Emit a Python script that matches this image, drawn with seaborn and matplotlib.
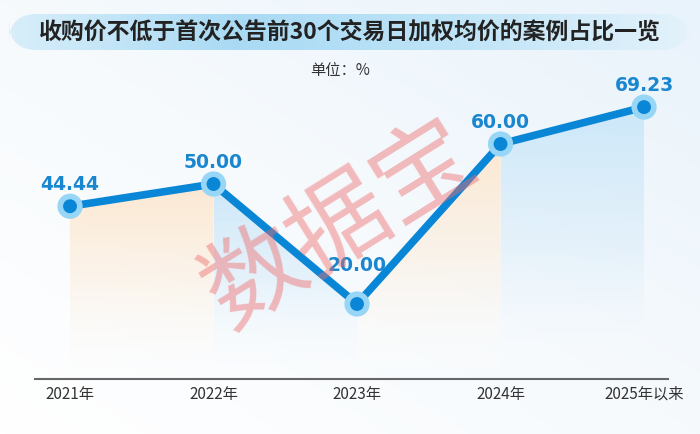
import numpy as np
import pandas as pd
import matplotlib
matplotlib.use("Agg")
import matplotlib.pyplot as plt
import seaborn as sns
from matplotlib.patches import FancyBboxPatch, Polygon
from matplotlib.colors import LinearSegmentedColormap

sns.set_theme(style="white")
plt.rcParams['font.family'] = ['Noto Sans CJK SC', 'DejaVu Sans']

categories = ["2021年", "2022年", "2023年", "2024年", "2025年以来"]
values = [44.44, 50.00, 20.00, 60.00, 69.23]
labels = ["44.44", "50.00", "20.00", "60.00", "69.23"]
title = "收购价不低于首次公告前30个交易日加权均价的案例占比一览"
unit = "单位：%"

df = pd.DataFrame({"x": range(len(categories)), "cat": categories, "v": values})

fig = plt.figure(figsize=(7, 4.34), dpi=100)

# background gradient
bg = fig.add_axes([0, 0, 1, 1], zorder=-10)
bg.axis("off")
gx = np.linspace(0, 1, 200)
gy = np.linspace(0, 1, 200)
GX, GY = np.meshgrid(gx, gy)
grad = 0.5 * GX + 0.5 * GY
bg_cmap = LinearSegmentedColormap.from_list("bg", ["#ffffff", "#f6fafd", "#e9f3fb"])
bg.imshow(grad, cmap=bg_cmap, extent=[0, 1, 0, 1], origin="lower", aspect="auto")
bg.set_xlim(0, 1); bg.set_ylim(0, 1)

# title banner
banner = FancyBboxPatch((9 / 700, 1 - 50 / 434), 680 / 700, 36 / 434,
                        boxstyle="round,pad=0,rounding_size=0.04",
                        transform=bg.transAxes, facecolor="none", edgecolor="none",
                        mutation_aspect=700 / 434)
bg.add_patch(banner)
bn_cmap = LinearSegmentedColormap.from_list("bn", ["#d8eefa", "#a9daf4", "#bfe4f7", "#e3f2fb"])
im = bg.imshow(np.tile(np.linspace(0, 1, 300), (10, 1)), cmap=bn_cmap,
               extent=[9 / 700, 689 / 700, 1 - 50 / 434, 1 - 14 / 434],
               origin="lower", aspect="auto", zorder=1)
im.set_clip_path(banner)
bg.set_xlim(0, 1); bg.set_ylim(0, 1)
fig.text(0.5, 1 - 32 / 434, title, ha="center", va="center", fontsize=16.5,
         fontweight="bold", color="#222222")
fig.text(340 / 700, 1 - 70 / 434, unit, ha="center", va="center", fontsize=11,
         color="#333333")

ax = fig.add_axes([35 / 700, 0.1267, 633 / 700, 0.7258])
ax.patch.set_alpha(0)
ymin, ymax = 1.25, 80
ax.set_xlim(-0.244, 4.167)
ax.set_ylim(ymin, ymax)

# gradient fills under each segment
orange = LinearSegmentedColormap.from_list(
    "or", [(1, 1, 1, 0.1), (0.99, 0.94, 0.88, 0.6), (0.99, 0.91, 0.82, 1.0)])
blue = LinearSegmentedColormap.from_list(
    "bl", [(1, 1, 1, 0.1), (0.86, 0.93, 0.98, 0.6), (0.80, 0.91, 0.98, 1.0)])
for i in range(len(values) - 1):
    poly = Polygon([(i, ymin), (i, values[i]), (i + 1, values[i + 1]), (i + 1, ymin)],
                   closed=True, facecolor="none", edgecolor="none")
    ax.add_patch(poly)
    top = max(values[i], values[i + 1])
    g = np.linspace(0, 1, 256).reshape(-1, 1)
    cm = orange if i % 2 == 0 else blue
    img = ax.imshow(g, cmap=cm, extent=[i, i + 1, ymin, top], origin="lower",
                    aspect="auto", zorder=1)
    img.set_clip_path(poly)
ax.set_xlim(-0.244, 4.167)
ax.set_ylim(ymin, ymax)

sns.lineplot(data=df, x="x", y="v", ax=ax, color="#0a86d6", linewidth=5.5, zorder=3,
             solid_capstyle="round")
sns.scatterplot(data=df, x="x", y="v", ax=ax, s=330, color="#97d6f6", edgecolor="none",
                zorder=4, legend=False)
sns.scatterplot(data=df, x="x", y="v", ax=ax, s=100, color="#0a86d6", edgecolor="none",
                zorder=5, legend=False)

vmin_idx = int(np.argmin(values))
for i, (v, lab) in enumerate(zip(values, labels)):
    off = 21 if i == vmin_idx else 9
    ax.annotate(lab, (i, v), xytext=(0, off), textcoords="offset points", ha="center",
                va="bottom", fontsize=13.5, fontweight="bold", color="#1a86cf",
                family=["DejaVu Sans"], zorder=6)

# watermark
fig.text(340 / 700, 1 - 225 / 434, "数据宝", fontsize=72, color="#ee6b6b",
         fontweight="light", alpha=0.45, rotation=32, ha="center", va="center", zorder=20)

ax.set_xticks(range(len(categories)))
ax.set_xticklabels(categories, fontsize=11, color="#333333")
ax.tick_params(axis="x", length=0, pad=5)
ax.set_yticks([])
ax.set_xlabel(""); ax.set_ylabel("")
for s in ["top", "right", "left"]:
    ax.spines[s].set_visible(False)
ax.spines["bottom"].set_color("#666666")
ax.spines["bottom"].set_linewidth(1.5)

fig.savefig("out.png", dpi=100)
